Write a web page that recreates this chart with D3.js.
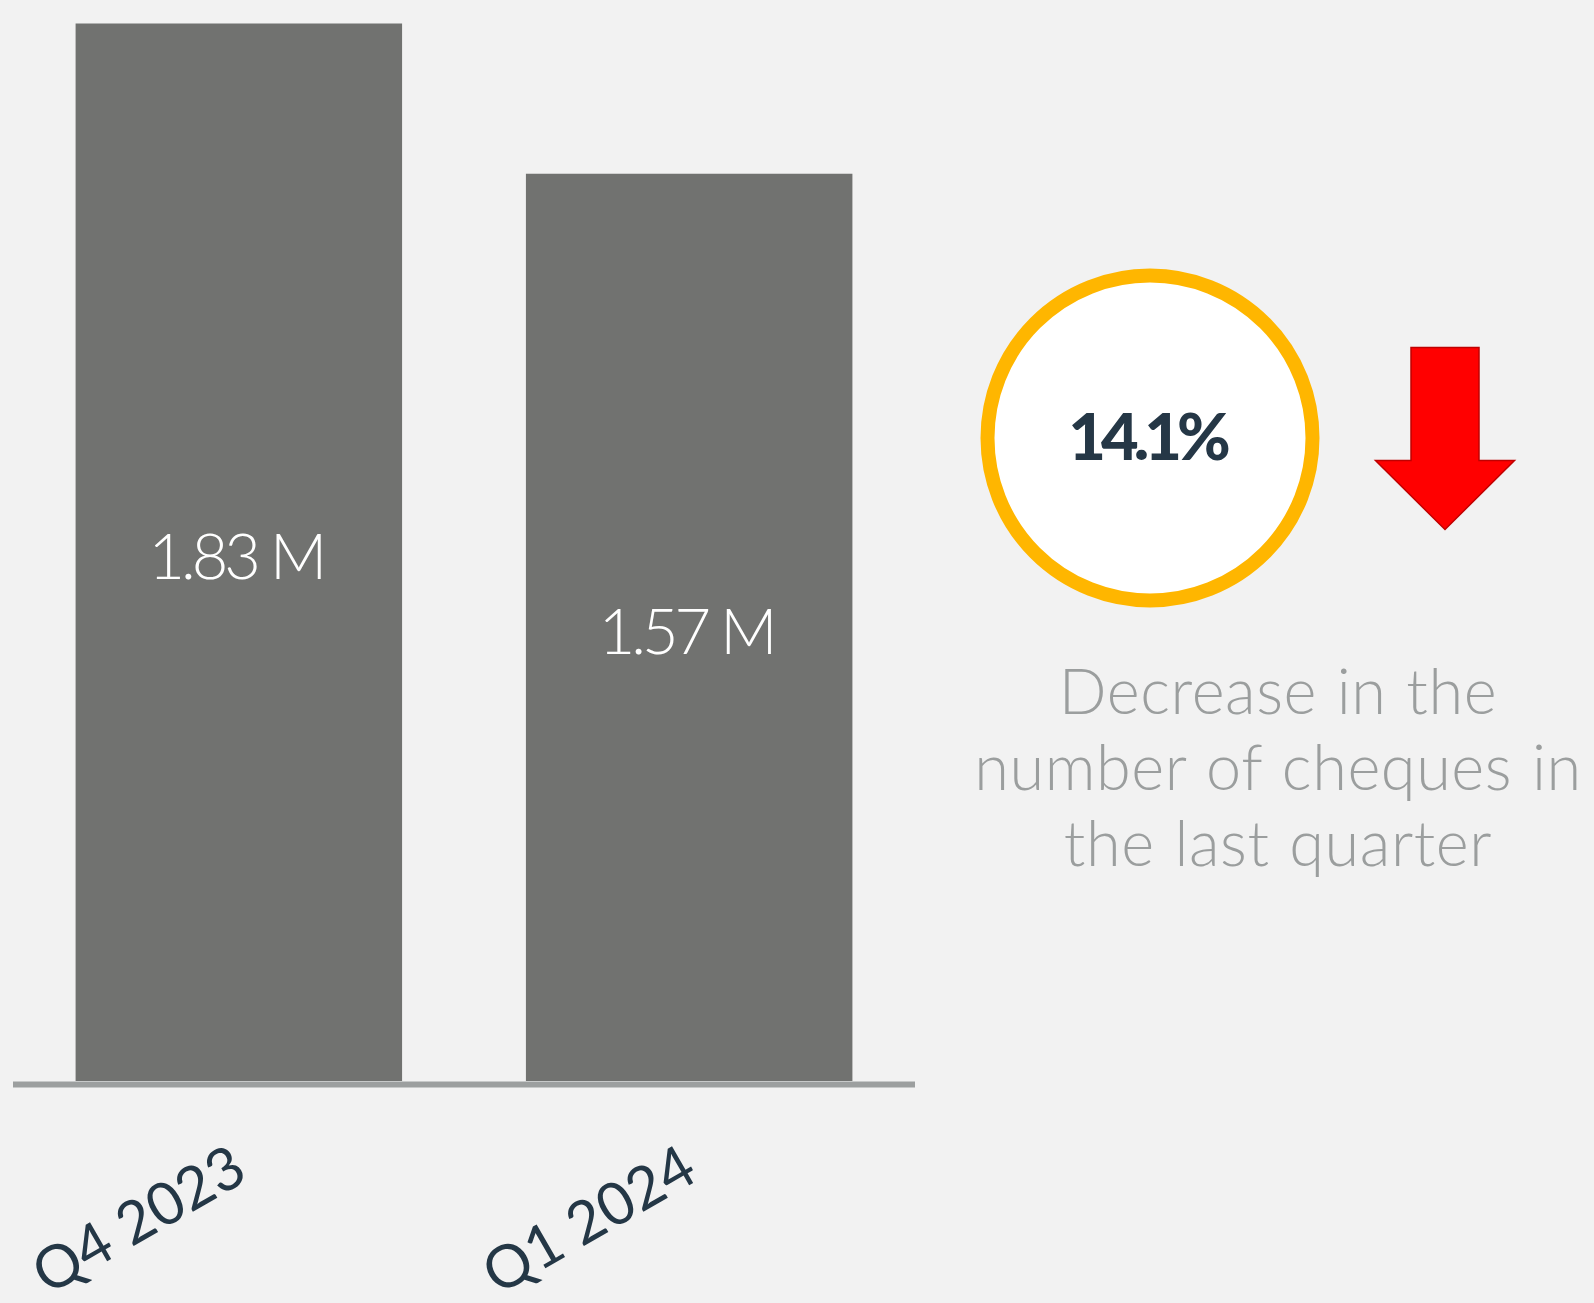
<!DOCTYPE html>
<html>
<head>
<meta charset="utf-8">
<script src="https://cdn.jsdelivr.net/npm/d3@7"></script>
<style>
  html, body { margin: 0; padding: 0; background: #F2F2F2; }
  svg { display: block; }
</style>
</head>
<body>
<svg id="chart" width="1594" height="1303"></svg>
<script>
// Cheque volumes per quarter (millions)
const quarters = ["Q4 2023", "Q1 2024"];
const chequeCounts = [1.83, 1.57];
const valueLabels = ["1.83 M", "1.57 M"];

// Quarter-on-quarter change callout
const changeLabel = "14.1%";
const captionLines = ["Decrease in the", "number of cheques in", "the last quarter"];

(function draw() {
  const W = 1594, H = 1303;
  const svg = d3.select("#chart");

  svg.append("rect").attr("width", W).attr("height", H).attr("fill", "#F2F2F2");

  // ---- bar chart ----
  const x = d3.scaleBand()
    .domain(quarters)
    .range([13, 915])
    .paddingInner(0.275)
    .paddingOuter(0.139);

  const y = d3.scaleLinear()
    .domain([0, d3.max(chequeCounts)])
    .range([1081, 23.5]);

  const data = quarters.map((q, i) => ({ q, v: chequeCounts[i], label: valueLabels[i] }));

  svg.append("g").selectAll("rect")
    .data(data)
    .join("rect")
    .attr("x", d => x(d.q))
    .attr("y", d => y(d.v))
    .attr("width", x.bandwidth())
    .attr("height", d => y(0) - y(d.v))
    .attr("fill", "#717270");

  // baseline rule
  svg.append("line")
    .attr("x1", x.range()[0]).attr("x2", x.range()[1])
    .attr("y1", y(0) + 3.5).attr("y2", y(0) + 3.5)
    .attr("stroke", "#9C9F9F")
    .attr("stroke-width", 6);

  // values inside bars
  svg.append("g").selectAll("text")
    .data(data)
    .join("text")
    .attr("x", d => x(d.q) + x.bandwidth() / 2 - 3)
    .attr("y", d => (y(d.v) + y(0)) / 2 + 27)
    .attr("text-anchor", "middle")
    .attr("fill", "#FFFFFF")
    .style("font-family", "Lato, 'Open Sans', sans-serif")
    .style("font-weight", 300)
    .style("font-size", "63px")
    .style("letter-spacing", "-4px")
    .text(d => d.label);

  // rotated quarter labels
  svg.append("g").selectAll("text")
    .data(data)
    .join("text")
    .attr("text-anchor", "end")
    .attr("transform", d => `translate(${x(d.q) + x.bandwidth() / 2 + 11},1179) rotate(-30)`)
    .attr("fill", "#243746")
    .style("font-family", "Lato, 'Open Sans', sans-serif")
    .style("font-weight", 400)
    .style("font-size", "59px")
    .text(d => d.q);

  // ---- change callout ----
  const cx = 1150, cy = 438, r = 162.5;
  svg.append("circle")
    .attr("cx", cx).attr("cy", cy).attr("r", r)
    .attr("fill", "#FFFFFF")
    .attr("stroke", "#FFB600")
    .attr("stroke-width", 14);

  svg.append("text")
    .attr("x", cx - 3).attr("y", cy + 22)
    .attr("text-anchor", "middle")
    .attr("fill", "#253746")
    .style("font-family", "Lato, sans-serif")
    .style("font-weight", 900)
    .style("font-size", "65px")
    .style("letter-spacing", "-5px")
    .text(changeLabel);

  // downward arrow
  const ax = 1445, shaftHalf = 34, headHalf = 69.5;
  const shaftTop = 347.5, neck = 460.5, tip = 529.5;
  const arrow = d3.path();
  arrow.moveTo(ax - shaftHalf, shaftTop);
  arrow.lineTo(ax + shaftHalf, shaftTop);
  arrow.lineTo(ax + shaftHalf, neck);
  arrow.lineTo(ax + headHalf, neck);
  arrow.lineTo(ax, tip);
  arrow.lineTo(ax - headHalf, neck);
  arrow.lineTo(ax - shaftHalf, neck);
  arrow.closePath();
  svg.append("path")
    .attr("d", arrow.toString())
    .attr("fill", "#FF0000")
    .attr("stroke", "#C00000")
    .attr("stroke-width", 1.5);

  // caption
  svg.append("g").selectAll("text")
    .data(captionLines)
    .join("text")
    .attr("x", 1278)
    .attr("y", (d, i) => 713.5 + i * 76.3)
    .attr("text-anchor", "middle")
    .attr("fill", "#9B9E9E")
    .style("font-family", "Lato, 'Open Sans', sans-serif")
    .style("font-weight", 300)
    .style("font-size", "63px")
    .style("letter-spacing", "0.6px")
    .style("word-spacing", "2px")
    .text(d => d);
})();
</script>
</body>
</html>
